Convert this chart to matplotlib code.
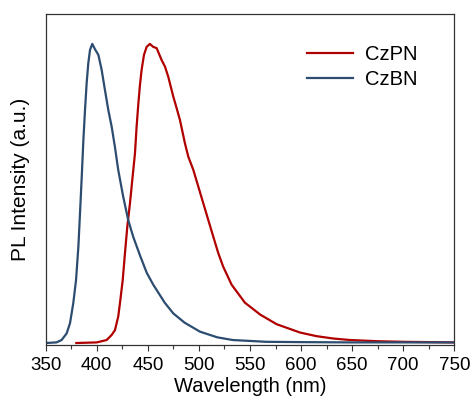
import numpy as np
import matplotlib.pyplot as plt

plt.rcParams['font.family'] = ['Liberation Sans', 'DejaVu Sans']

# normalised PL spectra, wavelength in nm
czbn_wl = [350, 360.5, 365.6, 370.5, 373.8, 377, 379.7, 382, 383.6, 385.3, 386.9,
           388.5, 390.1, 391.7, 393.4, 395.6, 398.3, 401.6, 404.8, 408, 411.3,
           414.6, 417.8, 421, 425.9, 430.8, 435.7, 442.3, 448.9, 455.3, 466.5,
           474.9, 486, 501, 518, 533, 566, 600, 650, 700, 750]
czbn_pl = [0.0, 0.002, 0.01, 0.032, 0.066, 0.133, 0.21, 0.322, 0.434, 0.556, 0.679,
           0.779, 0.869, 0.935, 0.98, 1.0, 0.982, 0.963, 0.913, 0.846, 0.779,
           0.723, 0.655, 0.579, 0.489, 0.411, 0.355, 0.293, 0.235, 0.195, 0.135,
           0.099, 0.068, 0.038, 0.019, 0.01, 0.004, 0.003, 0.002, 0.002, 0.002]

czpn_wl = [380, 399.9, 409.7, 414.6, 417.8, 421, 422.7, 425.4, 427.6, 429.9, 432.5,
           435.1, 437.4, 439, 440.7, 442.3, 443.9, 446.2, 448.8, 452, 455.3,
           458.6, 463.5, 466.8, 470, 474.9, 478.2, 481.4, 486.3, 489.6, 494.5,
           499.4, 504.3, 509.2, 514.1, 519, 523.8, 532, 545, 560, 576, 599,
           615, 631.5, 648, 675, 700, 750]
czpn_pl = [0.0, 0.002, 0.01, 0.027, 0.043, 0.088, 0.133, 0.21, 0.30, 0.389, 0.467,
           0.556, 0.634, 0.723, 0.80, 0.863, 0.913, 0.963, 0.99, 1.0, 0.99,
           0.986, 0.946, 0.924, 0.89, 0.824, 0.785, 0.746, 0.668, 0.623, 0.579,
           0.523, 0.467, 0.411, 0.355, 0.30, 0.255, 0.195, 0.135, 0.095, 0.063, 0.035,
           0.023, 0.015, 0.01, 0.006, 0.004, 0.002]

red = '#B00000'
blue = '#2C4C70'

fig = plt.figure(figsize=(4.7, 3.99), dpi=100)
ax = fig.add_axes([0.0972, 0.1353, 0.8694, 0.8296])

ax.plot(czpn_wl, czpn_pl, color=red, lw=1.6, label='CzPN')
ax.plot(czbn_wl, czbn_pl, color=blue, lw=1.6, label='CzBN')

ax.set_xlim(350, 750)
ax.set_ylim(-0.0067, 1.10)
ax.set_xticks(np.arange(350, 751, 50))
ax.set_xticks(np.arange(375, 750, 50), minor=True)
ax.set_yticks([])
ax.tick_params(axis='x', which='major', direction='out', length=4.5, width=0.8,
               labelsize=13.5, pad=4, color='#333333')
ax.tick_params(axis='x', which='minor', direction='out', length=3, width=0.8,
               color='#333333')
for s in ax.spines.values():
    s.set_color('#333333')
    s.set_linewidth(0.9)

ax.set_xlabel('Wavelength (nm)', fontsize=14.5, labelpad=2)
ax.set_ylabel('PL Intensity (a.u.)', fontsize=15, labelpad=11)

ax.legend(loc='upper right', frameon=False, fontsize=14.5, handlelength=2.3,
          handletextpad=0.6, labelspacing=0.3, bbox_to_anchor=(0.955, 0.96))

fig.savefig('out.png', dpi=100)
